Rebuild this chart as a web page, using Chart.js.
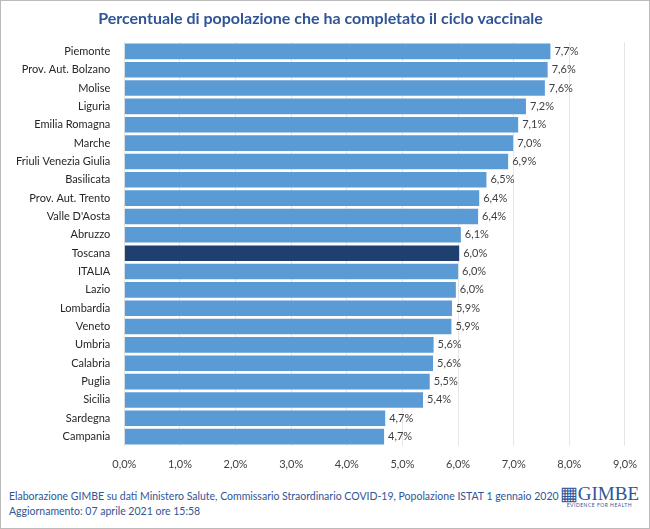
<!DOCTYPE html>
<html>
<head>
<meta charset="utf-8">
<script src="https://cdn.jsdelivr.net/npm/chart.js@4"></script>
<style>
  body { margin: 0; background: #fff; font-family: Lato, sans-serif; }
  #box { position: relative; width: 648px; height: 527px; border: 1px solid #bbb; }
  #wrap { position: absolute; left: 0; top: 0; width: 648px; height: 482px; }
  #foot { position: absolute; left: 8px; top: 488px; font-size: 10.5px; color: #2f5597; line-height: 15px; }
  #logo { position: absolute; right: 10px; top: 485px; color: #2f5597; font-family: "Liberation Serif", serif; font-size: 19px; text-align: center; line-height: 16px; }
  #logo small { display: block; font-family: Lato, sans-serif; font-size: 5px; letter-spacing: 0.5px; line-height: 6px; }
</style>
</head>
<body>
<div id="box">
  <div id="wrap"><canvas id="chart_1"></canvas></div>
  <div id="foot">Elaborazione GIMBE su dati Ministero Salute, Commissario Straordinario COVID-19, Popolazione ISTAT 1 gennaio 2020<br>Aggiornamento: 07 aprile 2021 ore 15:58</div>
  <div id="logo">&#9638;GIMBE<small>EVIDENCE FOR HEALTH</small></div>
</div>
<script>
// data
var regions = ["Piemonte", "Prov. Aut. Bolzano", "Molise", "Liguria", "Emilia Romagna", "Marche",
  "Friuli Venezia Giulia", "Basilicata", "Prov. Aut. Trento", "Valle D'Aosta", "Abruzzo", "Toscana",
  "ITALIA", "Lazio", "Lombardia", "Veneto", "Umbria", "Calabria", "Puglia", "Sicilia", "Sardegna", "Campania"];
var values = [7.66, 7.61, 7.56, 7.22, 7.08, 6.99, 6.90, 6.51, 6.38, 6.36, 6.05, 6.02,
  6.00, 5.96, 5.89, 5.88, 5.56, 5.55, 5.49, 5.37, 4.69, 4.67];
var labels = ["7,7%", "7,6%", "7,6%", "7,2%", "7,1%", "7,0%", "6,9%", "6,5%", "6,4%", "6,4%", "6,1%", "6,0%",
  "6,0%", "6,0%", "5,9%", "5,9%", "5,6%", "5,6%", "5,5%", "5,4%", "4,7%", "4,7%"];

var colors = regions.map(function (r) { return r == "Toscana" ? "#1f3f6e" : "#5b9bd5"; });

// value labels at bar end
var barLabels = {
  id: "barLabels",
  afterDatasetsDraw: function (chart) {
    var ctx = chart.ctx;
    ctx.save();
    ctx.font = "11px Lato";
    ctx.fillStyle = "#404040";
    ctx.textBaseline = "middle";
    chart.getDatasetMeta(0).data.forEach(function (bar, i) {
      ctx.fillText(labels[i], bar.x + 4, bar.y);
    });
    ctx.restore();
  }
};

new Chart(document.getElementById("chart_1"), {
  type: "bar",
  data: {
    labels: regions,
    datasets: [{ data: values, backgroundColor: colors, categoryPercentage: 0.85, barPercentage: 1 }]
  },
  options: {
    indexAxis: "y",
    responsive: true,
    maintainAspectRatio: false,
    animation: false,
    layout: { padding: { left: 9, right: 18, top: 0, bottom: 0 } },
    plugins: {
      legend: { display: false },
      tooltip: { enabled: false },
      title: {
        display: true,
        text: "Percentuale di popolazione che ha completato il ciclo vaccinale",
        color: "#2f5597",
        font: { family: "Lato", size: 16, weight: "bold" },
        padding: { top: 8, bottom: 14 }
      }
    },
    scales: {
      x: {
        min: 0, max: 9,
        ticks: { stepSize: 1, color: "#404040", font: { family: "Lato", size: 11 },
          callback: function (v) { return v.toFixed(1).replace(".", ",") + "%"; }, padding: 12 },
        grid: { color: "#e6e6e6", drawTicks: false },
        border: { display: false }
      },
      y: {
        ticks: { color: "#262626", font: { family: "Lato", size: 11 }, padding: 6, autoSkip: false },
        grid: { display: false },
        border: { display: false }
      }
    }
  },
  plugins: [barLabels]
});
</script>
</body>
</html>
